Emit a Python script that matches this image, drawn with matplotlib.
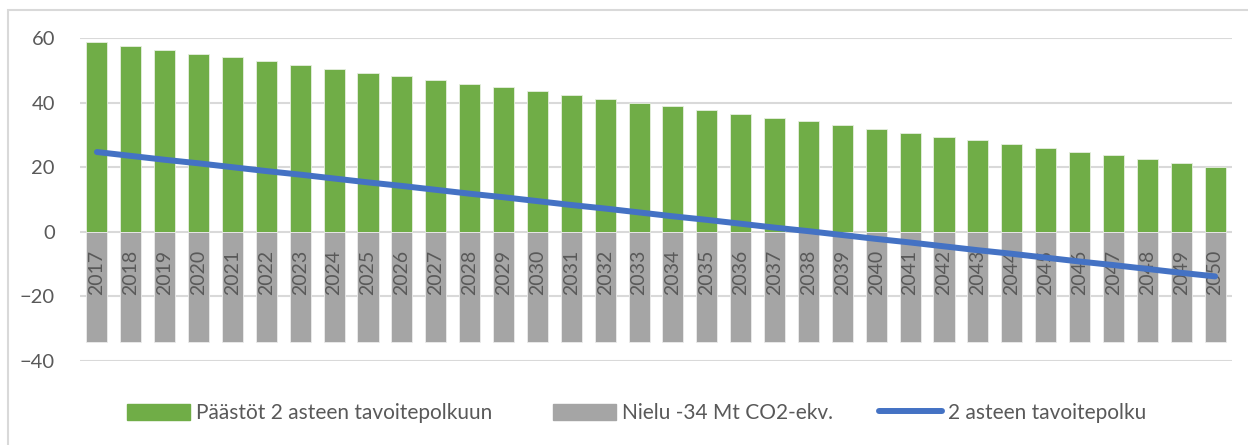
import matplotlib.pyplot as plt
import matplotlib.patches as mpatches
from matplotlib.lines import Line2D

years = [str(y) for y in range(2017, 2051)]
paastot = [58.7, 57.5, 56.3, 55.2, 54.0, 52.8, 51.7, 50.5, 49.3, 48.2, 47.0, 45.8,
           44.7, 43.5, 42.3, 41.2, 40.0, 38.8, 37.7, 36.5, 35.3, 34.2, 33.0, 31.8,
           30.7, 29.5, 28.3, 27.2, 26.0, 24.8, 23.7, 22.5, 21.3, 20.2]
nielu = [-34] * 34
polku = [24.7, 23.5, 22.3, 21.2, 20.0, 18.8, 17.7, 16.5, 15.3, 14.2, 13.0, 11.8,
         10.7, 9.5, 8.3, 7.2, 6.0, 4.8, 3.7, 2.5, 1.3, 0.2, -1.0, -2.2,
         -3.3, -4.5, -5.7, -6.8, -8.0, -9.2, -10.3, -11.5, -12.7, -13.8]
labels = ['Päästöt 2 asteen tavoitepolkuun', 'Nielu -34 Mt CO2-ekv.', '2 asteen tavoitepolku']

green = '#70AD47'
grey = '#A5A5A5'
blue = '#4472C4'
txt = '#595959'

plt.rcParams['font.family'] = ['Lato', 'DejaVu Sans']

fig = plt.figure(figsize=(12.48, 4.45), dpi=100)
ax = fig.add_axes([80/1248, 1 - 361/445, 1152/1248, 323/445])

x = range(len(years))
ax.bar(x, paastot, width=0.62, color=green, edgecolor='#e6efe0', linewidth=0.6, zorder=2)
ax.bar(x, nielu, width=0.62, color=grey, edgecolor='#ececec', linewidth=0.6, zorder=2)
ax.plot(x, polku, color=blue, linewidth=4.3, solid_capstyle='round', zorder=3)

ax.set_xlim(-0.5, len(years) - 0.5)
ax.set_ylim(-40, 60)
ax.set_yticks([-40, -20, 0, 20, 40, 60])
ax.grid(axis='y', color='#D9D9D9', linewidth=1.5)
ax.set_axisbelow(True)
ax.xaxis.set_zorder(2.5)  # year labels sit on top of the bars, under the line
for s in ax.spines.values():
    s.set_visible(False)
ax.spines['bottom'].set_position(('data', 0))

ax.set_xticks(list(x))
ax.set_xticklabels(years, rotation=90, fontsize=14, color=txt)
ax.tick_params(axis='x', length=0, pad=13)
ax.tick_params(axis='y', length=0, pad=18, labelsize=14.5, labelcolor=txt)

# outer chart border
fig.add_artist(mpatches.Rectangle((8/1248, -0.1), 1.1, 1.1 - 10/445,
                                  transform=fig.transFigure, fill=False,
                                  edgecolor='#D9D9D9', linewidth=1.5))

handles = [mpatches.Patch(color=green), mpatches.Patch(color=grey),
           Line2D([], [], color=blue, linewidth=4.3, solid_capstyle='round')]
xpos = [127, 553, 879]
for h, lab, xp in zip(handles, labels, xpos):
    fig.legend([h], [lab], loc='center left', bbox_to_anchor=(xp/1248, 1 - 413/445),
               frameon=False, fontsize=15, labelcolor=txt, handlelength=3.0,
               handleheight=0.8, handletextpad=0.3, borderpad=0, borderaxespad=0)

fig.savefig('out.png', dpi=100)
